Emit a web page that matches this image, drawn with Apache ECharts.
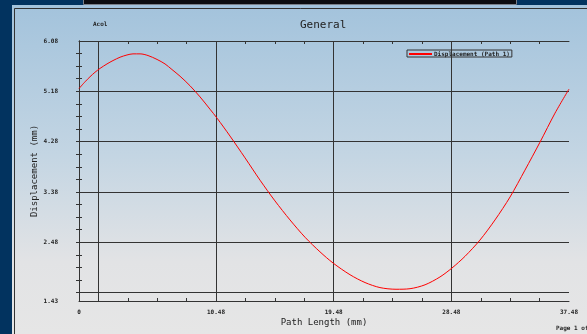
<!DOCTYPE html>
<html>
<head>
<meta charset="utf-8">
<script src="https://cdn.jsdelivr.net/npm/echarts/dist/echarts.min.js"></script>
<style>
  html, body { margin: 0; padding: 0; background: #02335f; }
  #chart { width: 587px; height: 334px; }
</style>
</head>
<body>
<div id="chart"></div>
<script>
// Displacement along Path 1
const pathLength = [0, 0.46, 0.84, 1.22, 1.61, 2.14, 2.60, 3.14, 3.67, 4.13, 4.67, 5.28, 5.97, 6.58, 7.11, 7.73,
  8.49, 9.26, 10.02, 10.56, 11.55, 12.70, 13.85, 14.99, 16.14, 17.29, 18.43, 19.43, 20.73, 21.88, 23.02,
  24.25, 25.32, 26.47, 27.61, 28.53, 29.53, 30.67, 31.82, 32.97, 34.11, 35.26, 36.41, 37.48];
const displacement = [5.23, 5.35, 5.44, 5.52, 5.59, 5.67, 5.73, 5.79, 5.83, 5.85, 5.85, 5.82, 5.75, 5.67, 5.57, 5.45,
  5.28, 5.08, 4.86, 4.70, 4.38, 3.99, 3.59, 3.22, 2.88, 2.57, 2.31, 2.11, 1.90, 1.76, 1.67,
  1.64, 1.65, 1.72, 1.86, 2.02, 2.23, 2.52, 2.88, 3.29, 3.77, 4.27, 4.79, 5.22];

// Axis ranges, tick labels, grid lines and minor ticks
const xMin = 0, xMax = 37.48;
const yMin = 1.43, yMax = 6.08;
const xLabelValues = [0, 10.48, 19.48, 28.48, 37.48];
const xLabelTexts = ['0', '10.48', '19.48', '28.48', '37.48'];
const xGridValues = [1.48, 10.48, 19.48, 28.48];
const xMinorTicks = [1.48, 3.73, 5.98, 8.23, 10.48, 12.73, 14.98, 17.23, 19.48, 21.73, 23.98, 26.23, 28.48, 30.73, 32.98, 35.23];
const yLabelValues = [1.43, 2.48, 3.38, 4.28, 5.18, 6.08];
const yLabelTexts = ['1.43', '2.48', '3.38', '4.28', '5.18', '6.08'];
const yGridValues = [1.58, 2.48, 3.38, 4.28, 5.18];
const yMinorTicks = [1.58, 1.805, 2.03, 2.255, 2.48, 2.705, 2.93, 3.155, 3.38, 3.605, 3.83, 4.055, 4.28, 4.505, 4.73, 4.955, 5.18, 5.405, 5.63, 5.855];

const seriesName = 'Displacement (Path 1)';
const MONO = "'DejaVu Sans Mono', monospace";
const INK = '#222';

function labelFor(values, texts) {
  return function (v) {
    for (let i = 0; i < values.length; i++) {
      if (Math.abs(values[i] - v) < 1e-6) return texts[i];
    }
    return '';
  };
}

const points = pathLength.map((x, i) => [x, displacement[i]]);

const tickLabelStyle = { fontFamily: MONO, fontSize: 6, fontWeight: 'bold', color: INK };

function makeX(position, withLabels) {
  return {
    type: 'value', position: position, min: xMin, max: xMax,
    axisLine: { show: true, lineStyle: { color: '#333', width: 1 } },
    axisTick: { show: true, inside: true, length: 3, customValues: xMinorTicks, lineStyle: { color: '#333' } },
    axisLabel: withLabels ? Object.assign({ show: true, margin: 8, customValues: xLabelValues,
      formatter: labelFor(xLabelValues, xLabelTexts), showMinLabel: true, showMaxLabel: true }, tickLabelStyle) : { show: false },
    splitLine: { show: false },
    name: withLabels ? 'Path Length (mm)' : '',
    nameLocation: 'middle', nameGap: 17, nameMoveOverlap: false,
    nameTextStyle: { fontFamily: MONO, fontSize: 9, color: INK }
  };
}
function makeY(position, withLabels) {
  return {
    type: 'value', position: position, min: yMin, max: yMax,
    axisLine: { show: true, lineStyle: { color: '#333', width: 1 } },
    axisTick: { show: true, inside: true, length: 3, customValues: yMinorTicks, lineStyle: { color: '#333' } },
    axisLabel: withLabels ? Object.assign({ show: true, margin: 21, customValues: yLabelValues,
      formatter: labelFor(yLabelValues, yLabelTexts), showMinLabel: true, showMaxLabel: true }, tickLabelStyle) : { show: false },
    splitLine: { show: false },
    name: withLabels ? 'Displacement (mm)' : '',
    nameLocation: 'middle', nameGap: 40, nameRotate: 90, nameMoveOverlap: false,
    nameTextStyle: { fontFamily: MONO, fontSize: 9, color: INK }
  };
}

const chart = echarts.init(document.getElementById('chart'), null, { renderer: 'canvas' });
chart.setOption({
  animation: false,
  backgroundColor: '#02335f',
  title: {
    text: 'General', left: 300, top: 20, padding: 0,
    textStyle: { fontFamily: MONO, fontSize: 11, fontWeight: 'normal', color: INK }
  },
  legend: {
    left: 407, top: 50, padding: [1, 2, 0, 2],
    borderColor: '#333', borderWidth: 1,
    itemWidth: 23, itemHeight: 2, itemGap: 0,
    data: [{ name: seriesName, icon: 'rect', itemStyle: { color: '#ff0000' } }],
    textStyle: { fontFamily: MONO, fontSize: 6, fontWeight: 'bold', color: INK, lineHeight: 6, padding: [0, 0, 0, -3] }
  },
  grid: { left: 79, top: 41, width: 490, height: 260, containLabel: false },
  xAxis: [makeX('bottom', true), makeX('top', false)],
  yAxis: [makeY('left', true), makeY('right', false)],
  graphic: [
    { type: 'rect', z: -10, shape: { x: 12, y: 5, width: 575, height: 329 },
      style: { fill: new echarts.graphic.LinearGradient(0, 0, 0, 1, [
        { offset: 0, color: '#a3c3dc' },
        { offset: 0.45, color: '#c3d5e3' },
        { offset: 0.78, color: '#e2e3e5' },
        { offset: 1, color: '#e6e6e6' }
      ]) } },
    { type: 'rect', z: -9, shape: { x: 83.5, y: -1, width: 433, height: 5.5 },
      style: { fill: '#0c0c10', stroke: '#7a7f88', lineWidth: 1 } },
    { type: 'line', z: -9, shape: { x1: 14.5, y1: 8.5, x2: 14.5, y2: 334 }, style: { stroke: '#333', lineWidth: 1 } },
    { type: 'line', z: -9, shape: { x1: 14.5, y1: 8.5, x2: 587, y2: 8.5 }, style: { stroke: '#333', lineWidth: 1 } },
    { type: 'text', z: 10, x: 93, y: 21, style: { text: 'Acol', font: "bold 6px 'DejaVu Sans Mono'", fill: INK } },
    { type: 'text', z: 10, x: 556, y: 325, style: { text: 'Page 1 of 1', font: "bold 6px 'DejaVu Sans Mono'", fill: INK } }
  ],
  series: [
    {
      name: 'grid', type: 'line', data: points, z: 1, silent: true,
      showSymbol: false, lineStyle: { opacity: 0 },
      markLine: {
        silent: true, symbol: ['none', 'none'], label: { show: false },
        lineStyle: { color: '#333', width: 1, type: 'solid' },
        data: xGridValues.map(v => ({ xAxis: v })).concat(yGridValues.map(v => ({ yAxis: v })))
      }
    },
    {
      name: seriesName, type: 'line', data: points, z: 5,
      smooth: 0.3, showSymbol: false,
      lineStyle: { color: '#ff0000', width: 1 },
      itemStyle: { color: '#ff0000' }
    }
  ]
});
</script>
</body>
</html>
